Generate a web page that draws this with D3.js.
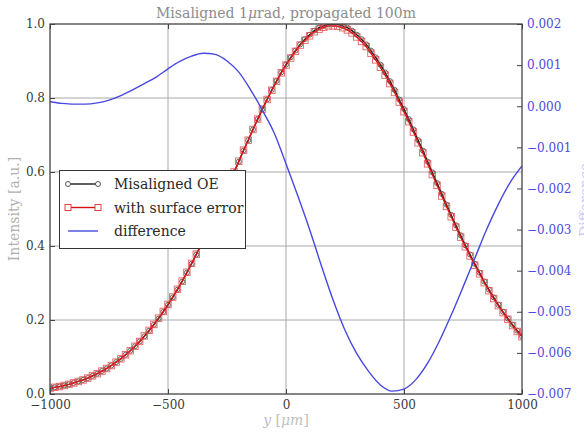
<!DOCTYPE html>
<html>
<head>
<meta charset="utf-8">
<script src="https://cdn.jsdelivr.net/npm/d3@7"></script>
<style>
  body { margin: 0; background: #fff; }
  svg { display: block; }
  text { font-family: "DejaVu Serif", serif; }
</style>
</head>
<body>
<svg></svg>
<script>
// Sample positions (y in um), every 20 um for the intensity curves
const samplePos = d3.range(-1000, 1001, 20);

// Intensity of the misaligned optical element
const misaligned = [
  0.015, 0.018, 0.020, 0.023, 0.026, 0.030, 0.034, 0.038, 0.043, 0.049,
  0.055, 0.062, 0.069, 0.077, 0.086, 0.095, 0.106, 0.117, 0.129, 0.142,
  0.156, 0.171, 0.187, 0.204, 0.222, 0.241, 0.261, 0.282, 0.304, 0.328,
  0.352, 0.377, 0.402, 0.429, 0.456, 0.484, 0.512, 0.541, 0.570, 0.599,
  0.628, 0.658, 0.686, 0.715, 0.743, 0.770, 0.796, 0.822, 0.846, 0.869,
  0.890, 0.910, 0.928, 0.945, 0.959, 0.971, 0.982, 0.990, 0.995, 0.999,
  1.000, 0.999, 0.995, 0.990, 0.982, 0.971, 0.959, 0.945, 0.928, 0.910,
  0.890, 0.869, 0.846, 0.822, 0.796, 0.770, 0.743, 0.715, 0.686, 0.658,
  0.628, 0.599, 0.570, 0.541, 0.512, 0.484, 0.456, 0.429, 0.402, 0.377,
  0.352, 0.328, 0.304, 0.282, 0.261, 0.241, 0.222, 0.204, 0.187, 0.171,
  0.156
];

// Same beam with the surface error added
const surfaceError = [
  0.015, 0.018, 0.020, 0.023, 0.026, 0.030, 0.034, 0.038, 0.043, 0.049,
  0.055, 0.062, 0.069, 0.077, 0.086, 0.095, 0.106, 0.117, 0.129, 0.142,
  0.157, 0.172, 0.188, 0.205, 0.223, 0.242, 0.262, 0.283, 0.305, 0.329,
  0.353, 0.378, 0.403, 0.430, 0.457, 0.485, 0.513, 0.542, 0.571, 0.600,
  0.629, 0.659, 0.686, 0.715, 0.743, 0.770, 0.796, 0.821, 0.845, 0.868,
  0.889, 0.908, 0.926, 0.943, 0.956, 0.968, 0.979, 0.986, 0.991, 0.995,
  0.995, 0.994, 0.990, 0.984, 0.976, 0.965, 0.953, 0.939, 0.921, 0.903,
  0.883, 0.862, 0.839, 0.815, 0.789, 0.763, 0.736, 0.708, 0.679, 0.652,
  0.622, 0.593, 0.564, 0.535, 0.507, 0.479, 0.451, 0.424, 0.398, 0.373,
  0.348, 0.325, 0.301, 0.279, 0.258, 0.239, 0.220, 0.202, 0.185, 0.169,
  0.155
];

// Difference curve, sampled every 50 um
const diffPos = d3.range(-1000, 1001, 50);
const difference = [
  0.00011, 0.00007, 0.00005, 0.00005, 0.00008, 0.00015, 0.00026, 0.00040, 0.00055, 0.00071,
  0.00091, 0.00109, 0.00122, 0.00129, 0.00126, 0.00110, 0.00083, 0.00040, -0.00010, -0.00065,
  -0.00140, -0.00218, -0.00300, -0.00388, -0.00472, -0.00545, -0.00602, -0.00645, -0.00678, -0.00693,
  -0.00688, -0.00665, -0.00625, -0.00571, -0.00508, -0.00440, -0.00370, -0.00300, -0.00238, -0.00185,
  -0.00145
];

const xTicks = [-1000, -500, 0, 500, 1000];
const leftTicks = [0.0, 0.2, 0.4, 0.6, 0.8, 1.0];
const rightTicks = [-0.007, -0.006, -0.005, -0.004, -0.003, -0.002, -0.001, 0.000, 0.001, 0.002];

const width = 584, height = 437;
const plotLeft = 50, plotRight = 522, plotTop = 24, plotBottom = 394;

const svg = d3.select("svg")
    .attr("width", width)
    .attr("height", height);

svg.append("rect").attr("width", width).attr("height", height).attr("fill", "#fff");

// Scales
const x = d3.scaleLinear().domain([-1000, 1000]).range([plotLeft, plotRight]);
const yL = d3.scaleLinear().domain([0, 1]).range([plotBottom, plotTop]);
const yR = d3.scaleLinear().domain([-0.007, 0.002]).range([plotBottom, plotTop]);

// Grid
const grid = svg.append("g").attr("stroke", "#a8a8a8").attr("stroke-width", 1);
grid.selectAll(".gx").data(xTicks.slice(1, -1)).enter().append("line")
    .attr("x1", d => x(d)).attr("x2", d => x(d))
    .attr("y1", plotTop).attr("y2", plotBottom);
grid.selectAll(".gy").data(leftTicks.slice(1, -1)).enter().append("line")
    .attr("x1", plotLeft).attr("x2", plotRight)
    .attr("y1", d => yL(d)).attr("y2", d => yL(d));

// Clip for the curves
svg.append("clipPath").attr("id", "plot")
  .append("rect").attr("x", plotLeft).attr("y", plotTop)
  .attr("width", plotRight - plotLeft).attr("height", plotBottom - plotTop);

const curves = svg.append("g").attr("clip-path", "url(#plot)");

// Misaligned OE: black line with hollow circles
curves.append("path")
    .datum(misaligned)
    .attr("fill", "none")
    .attr("stroke", "#1a1a1a")
    .attr("stroke-width", 1.4)
    .attr("d", d3.line().x((d, i) => x(samplePos[i])).y(d => yL(d)));
curves.selectAll(".circ").data(misaligned).enter().append("circle")
    .attr("cx", (d, i) => x(samplePos[i]))
    .attr("cy", d => yL(d))
    .attr("r", 2.5)
    .attr("fill", "none")
    .attr("stroke", "#555")
    .attr("stroke-width", 0.9);

// With surface error: red line with hollow squares
curves.append("path")
    .datum(surfaceError)
    .attr("fill", "none")
    .attr("stroke", "#d81010")
    .attr("stroke-width", 1.4)
    .attr("d", d3.line().x((d, i) => x(samplePos[i])).y(d => yL(d)));
curves.selectAll(".sq").data(surfaceError).enter().append("rect")
    .attr("x", (d, i) => x(samplePos[i]) - 3.25)
    .attr("y", d => yL(d) - 3.25)
    .attr("width", 6.5).attr("height", 6.5)
    .attr("fill", "none")
    .attr("stroke", "#e04040")
    .attr("stroke-opacity", 0.8)
    .attr("stroke-width", 0.9);

// Difference on the right axis
curves.append("path")
    .datum(difference)
    .attr("fill", "none")
    .attr("stroke", "#4848e0")
    .attr("stroke-width", 1.4)
    .attr("d", d3.line().curve(d3.curveMonotoneX).x((d, i) => x(diffPos[i])).y(d => yR(d)));

// Axes (ticks point inward)
const axisStyle = g => {
  g.select(".domain").remove();
  g.selectAll(".tick line").attr("stroke", "#444");
  g.selectAll(".tick text").attr("font-family", "DejaVu Serif").attr("font-size", 12).attr("fill", "#3a3a3a");
};

svg.append("g")
    .attr("transform", `translate(0,${plotBottom})`)
    .call(d3.axisBottom(x).tickValues(xTicks).tickFormat(d3.format("d")).tickSize(-5).tickPadding(6))
    .call(axisStyle);

svg.append("g")
    .attr("transform", `translate(0,${plotTop})`)
    .call(d3.axisTop(x).tickValues(xTicks).tickFormat("").tickSize(-5))
    .call(axisStyle);

svg.append("g")
    .attr("transform", `translate(${plotLeft},0)`)
    .call(d3.axisLeft(yL).tickValues(leftTicks).tickFormat(d3.format(".1f")).tickSize(-5).tickPadding(5))
    .call(axisStyle);

svg.append("g")
    .attr("transform", `translate(${plotRight},0)`)
    .call(d3.axisRight(yR).tickValues(rightTicks).tickFormat(d3.format(".3f")).tickSize(-5).tickPadding(5))
    .call(axisStyle)
    .call(g => g.selectAll(".tick text").attr("fill", "#4b4be0"));

// Frame
svg.append("rect")
    .attr("x", plotLeft).attr("y", plotTop)
    .attr("width", plotRight - plotLeft).attr("height", plotBottom - plotTop)
    .attr("fill", "none").attr("stroke", "#444").attr("stroke-width", 1.3);

// Title and axis labels
const title = svg.append("text")
    .attr("x", (plotLeft + plotRight) / 2).attr("y", 18)
    .attr("text-anchor", "middle")
    .attr("font-size", 14)
    .attr("fill", "#8c8c8c");
title.append("tspan").text("Misaligned 1");
title.append("tspan").attr("font-style", "italic").text("μ");
title.append("tspan").text("rad, propagated 100m");

const xlab = svg.append("text")
    .attr("x", (plotLeft + plotRight) / 2).attr("y", 425)
    .attr("text-anchor", "middle")
    .attr("font-size", 14)
    .attr("fill", "#c0c0c0");
xlab.append("tspan").attr("font-style", "italic").text("y");
xlab.append("tspan").text(" [");
xlab.append("tspan").attr("font-style", "italic").text("μm");
xlab.append("tspan").text("]");

svg.append("text")
    .attr("transform", "translate(19,209) rotate(-90)")
    .attr("text-anchor", "middle")
    .attr("font-size", 14)
    .attr("fill", "#b0b0b0")
    .text("Intensity [a.u.]");

svg.append("text")
    .attr("transform", "translate(590,200) rotate(-90)")
    .attr("text-anchor", "middle")
    .attr("font-size", 14)
    .attr("fill", "#cacaf4")
    .text("Difference");

// Legend
const legend = svg.append("g");
legend.append("rect")
    .attr("x", 59.5).attr("y", 170.5)
    .attr("width", 186).attr("height", 78)
    .attr("fill", "#fff").attr("stroke", "#333").attr("stroke-width", 1);

const legendRows = [
  { label: "Misaligned OE", color: "#1a1a1a", marker: "circle", mcolor: "#555" },
  { label: "with surface error", color: "#d81010", marker: "square", mcolor: "#e04040" },
  { label: "difference", color: "#4848e0", marker: null }
];
legendRows.forEach((r, i) => {
  const cy = 184 + i * 23.5;
  legend.append("line")
      .attr("x1", 68).attr("x2", 98).attr("y1", cy).attr("y2", cy)
      .attr("stroke", r.color).attr("stroke-width", 1.4);
  [68, 98].forEach(cx => {
    if (r.marker === "circle") {
      legend.append("circle").attr("cx", cx).attr("cy", cy).attr("r", 2.5)
          .attr("fill", "#fff").attr("stroke", r.mcolor).attr("stroke-width", 1);
    } else if (r.marker === "square") {
      legend.append("rect").attr("x", cx - 3).attr("y", cy - 3).attr("width", 6).attr("height", 6)
          .attr("fill", "#fff").attr("stroke", r.mcolor).attr("stroke-width", 1);
    }
  });
  legend.append("text")
      .attr("x", 114).attr("y", cy + 5)
      .attr("font-size", 14)
      .attr("fill", "#2a2a2a")
      .text(r.label);
});
</script>
</body>
</html>
